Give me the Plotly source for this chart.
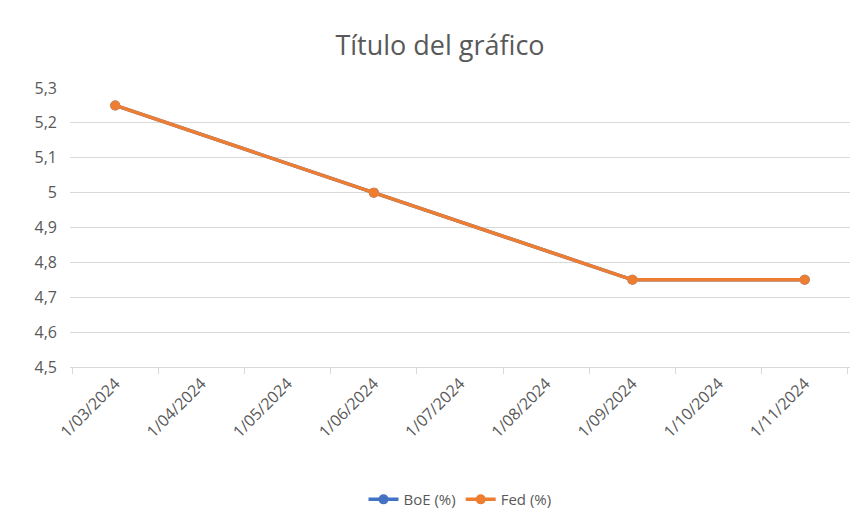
import plotly.graph_objects as go

categories = ["1/03/2024","1/04/2024","1/05/2024","1/06/2024","1/07/2024","1/08/2024","1/09/2024","1/10/2024","1/11/2024"]
boe = [5.25, None, None, 5.0, None, None, 4.75, None, 4.75]
fed = [5.25, None, None, 5.0, None, None, 4.75, None, 4.75]

fig = go.Figure()
fig.add_trace(go.Scatter(x=categories, y=boe, name="BoE (%)", mode="lines+markers", connectgaps=True,
                         line=dict(color="#4472C4", width=3.5), marker=dict(size=10, color="#4472C4")))
fig.add_trace(go.Scatter(x=categories, y=fed, name="Fed (%)", mode="lines+markers", connectgaps=True,
                         line=dict(color="#ED7D31", width=3.5), marker=dict(size=10, color="#ED7D31")))

fig.update_layout(
    width=864, height=518, paper_bgcolor="white", plot_bgcolor="white",
    font=dict(family="Open Sans, Liberation Sans, sans-serif", color="#595959"),
    title=dict(text="Título del gráfico", x=0.5, xanchor="center", y=0.927, yanchor="middle",
               font=dict(size=27, color="#595959")),
    margin=dict(l=62, r=22, t=80, b=158),
    legend=dict(orientation="h", x=0.5, xanchor="center", y=-0.47, yanchor="middle",
                font=dict(size=15, color="#595959")),
    xaxis=dict(type="category", categoryorder="array", categoryarray=categories,
               tickangle=-45, tickson="boundaries", ticks="outside", ticklen=6, tickcolor="#D9D9D9",
               showgrid=False, showline=True, linecolor="#D9D9D9", linewidth=1,
               tickfont=dict(size=16, color="#595959")),
    yaxis=dict(range=[4.5, 5.3], showgrid=True, gridcolor="#D9D9D9", zeroline=False, showline=False,
               tickfont=dict(size=16, color="#595959"), ticklabelstandoff=12),
)
fig.update_yaxes(tickvals=[4.5,4.6,4.7,4.8,4.9,5.0,5.1,5.2,5.3],
                 ticktext=["4,5","4,6","4,7","4,8","4,9","5","5,1","5,2","5,3"])
fig.write_html("out.html")
